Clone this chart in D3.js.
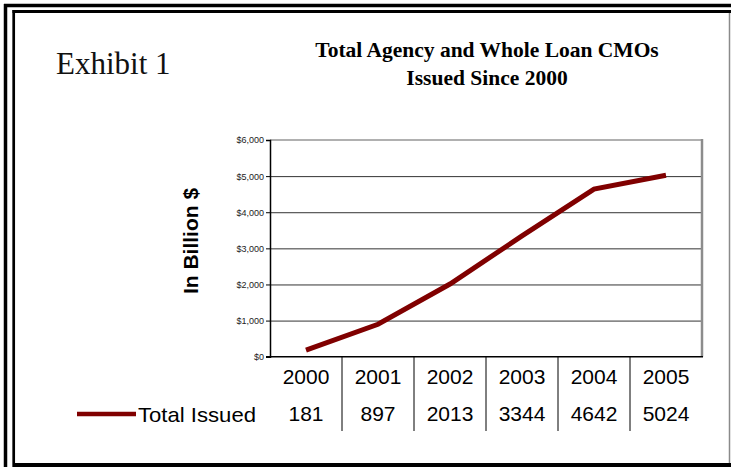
<!DOCTYPE html>
<html>
<head>
<meta charset="utf-8">
<script src="https://cdn.jsdelivr.net/npm/d3@7/dist/d3.min.js"></script>
<style>
  body { margin: 0; background: #fff; }
  svg { display: block; }
  .tick text { font-family: "Liberation Sans", Arial, sans-serif; }
</style>
</head>
<body>
<svg id="chart" width="731" height="467"></svg>
<script>
const years = ["2000", "2001", "2002", "2003", "2004", "2005"];
const totalIssued = [181, 897, 2013, 3344, 4642, 5024];
const yTicks = [0, 1000, 2000, 3000, 4000, 5000, 6000];
const seriesName = "Total Issued";
const titleLines = ["Total Agency and Whole Loan CMOs", "Issued Since 2000"];

const svg = d3.select("#chart");
const sans = '"Liberation Sans", Arial, sans-serif';
const serif = '"Liberation Serif", "Times New Roman", serif';
const red = "#800000";

const plot = { left: 270, right: 702, top: 140, bottom: 356.7 };

svg.append("rect").attr("width", 731).attr("height", 467).attr("fill", "#fff");

// page frame (double rule on left/top, heavy rule at bottom)
const frame = svg.append("g");
frame.append("line").attr("x1", 5.5).attr("y1", 4).attr("x2", 5.5).attr("y2", 467)
    .attr("stroke", "#000").attr("stroke-width", 3.5);
frame.append("line").attr("x1", 4).attr("y1", 5.5).attr("x2", 731).attr("y2", 5.5)
    .attr("stroke", "#000").attr("stroke-width", 3.5);
frame.append("line").attr("x1", 13.7).attr("y1", 10).attr("x2", 13.7).attr("y2", 467)
    .attr("stroke", "#000").attr("stroke-width", 2.7);
frame.append("line").attr("x1", 12.5).attr("y1", 11.5).attr("x2", 731).attr("y2", 11.5)
    .attr("stroke", "#000").attr("stroke-width", 3);
frame.append("line").attr("x1", 729.5).attr("y1", 13).attr("x2", 729.5).attr("y2", 463)
    .attr("stroke", "#8a8a8a").attr("stroke-width", 1.5);
frame.append("rect").attr("x", 15).attr("y", 463).attr("width", 716).attr("height", 4)
    .attr("fill", "#000");

// headings
svg.append("text").attr("x", 56).attr("y", 74)
    .attr("font-family", serif).attr("font-size", 31).attr("fill", "#111")
    .text("Exhibit 1");

svg.append("g").selectAll("text").data(titleLines).join("text")
    .attr("x", 487).attr("y", (d, i) => 57 + i * 28)
    .attr("text-anchor", "middle")
    .attr("font-family", serif).attr("font-weight", "bold").attr("font-size", 21.5)
    .attr("fill", "#000")
    .text(d => d);

// scales
const x = d3.scaleBand().domain(years).range([plot.left, plot.right]);
const y = d3.scaleLinear().domain([0, 6000]).range([plot.bottom, plot.top]);

// gridlines
svg.append("g")
    .attr("transform", `translate(${plot.left},0)`)
    .call(d3.axisLeft(y).tickValues(yTicks.slice(1, -1)).tickSize(-(plot.right - plot.left)).tickFormat(""))
    .call(g => g.select(".domain").remove())
    .call(g => g.selectAll(".tick line").attr("stroke", "#333").attr("stroke-width", 1));

// plot frame: grey top and right
svg.append("line").attr("x1", plot.left).attr("x2", plot.right)
    .attr("y1", y(6000)).attr("y2", y(6000))
    .attr("stroke", "#b0b0b0").attr("stroke-width", 2);
svg.append("line").attr("x1", plot.right).attr("x2", plot.right)
    .attr("y1", y(6000) - 1).attr("y2", plot.bottom)
    .attr("stroke", "#8c8c8c").attr("stroke-width", 2.5);

// y axis
svg.append("g")
    .attr("transform", `translate(${plot.left},0)`)
    .call(d3.axisLeft(y).tickValues(yTicks).tickSize(4).tickPadding(2)
        .tickFormat(d => "$" + d3.format(",")(d)))
    .call(g => g.select(".domain").attr("stroke", "#000").attr("stroke-width", 1.5))
    .call(g => g.selectAll(".tick line").attr("stroke", "#000"))
    .call(g => g.selectAll(".tick text").attr("font-size", 9).attr("fill", "#222"));

// x baseline
svg.append("line").attr("x1", plot.left - 4).attr("x2", plot.right + 1)
    .attr("y1", plot.bottom).attr("y2", plot.bottom)
    .attr("stroke", "#000").attr("stroke-width", 1.5);

// y title
svg.append("text")
    .attr("transform", `translate(198,241) rotate(-90)`)
    .attr("text-anchor", "middle")
    .attr("font-family", sans).attr("font-weight", "bold").attr("font-size", 21)
    .attr("fill", "#000")
    .text("In Billion $");

// series line
const pts = years.map((yr, i) => [x(yr) + x.bandwidth() / 2, y(totalIssued[i])]);
svg.append("path")
    .attr("d", d3.line()(pts))
    .attr("fill", "none").attr("stroke", red).attr("stroke-width", 5)
    .attr("stroke-linejoin", "miter");

// data table below the chart
const table = svg.append("g");
table.selectAll("line").data(years.slice(1)).join("line")
    .attr("x1", d => x(d)).attr("x2", d => x(d))
    .attr("y1", plot.bottom).attr("y2", 431)
    .attr("stroke", "#000").attr("stroke-width", 1);
table.selectAll("text.yr").data(years).join("text").attr("class", "yr")
    .attr("x", d => x(d) + x.bandwidth() / 2).attr("y", 383.5)
    .attr("text-anchor", "middle")
    .attr("font-family", sans).attr("font-size", 21).attr("fill", "#000")
    .text(d => d);
table.selectAll("text.val").data(totalIssued).join("text").attr("class", "val")
    .attr("x", (d, i) => x(years[i]) + x.bandwidth() / 2).attr("y", 420.5)
    .attr("text-anchor", "middle")
    .attr("font-family", sans).attr("font-size", 21).attr("fill", "#000")
    .text(d => d);

// legend key
table.append("line").attr("x1", 77).attr("x2", 136).attr("y1", 414).attr("y2", 414)
    .attr("stroke", red).attr("stroke-width", 4.5);
table.append("text").attr("x", 138).attr("y", 422)
    .attr("font-family", sans).attr("font-size", 21).attr("fill", "#000")
    .attr("textLength", 118).attr("lengthAdjust", "spacingAndGlyphs")
    .text(seriesName);
</script>
</body>
</html>
